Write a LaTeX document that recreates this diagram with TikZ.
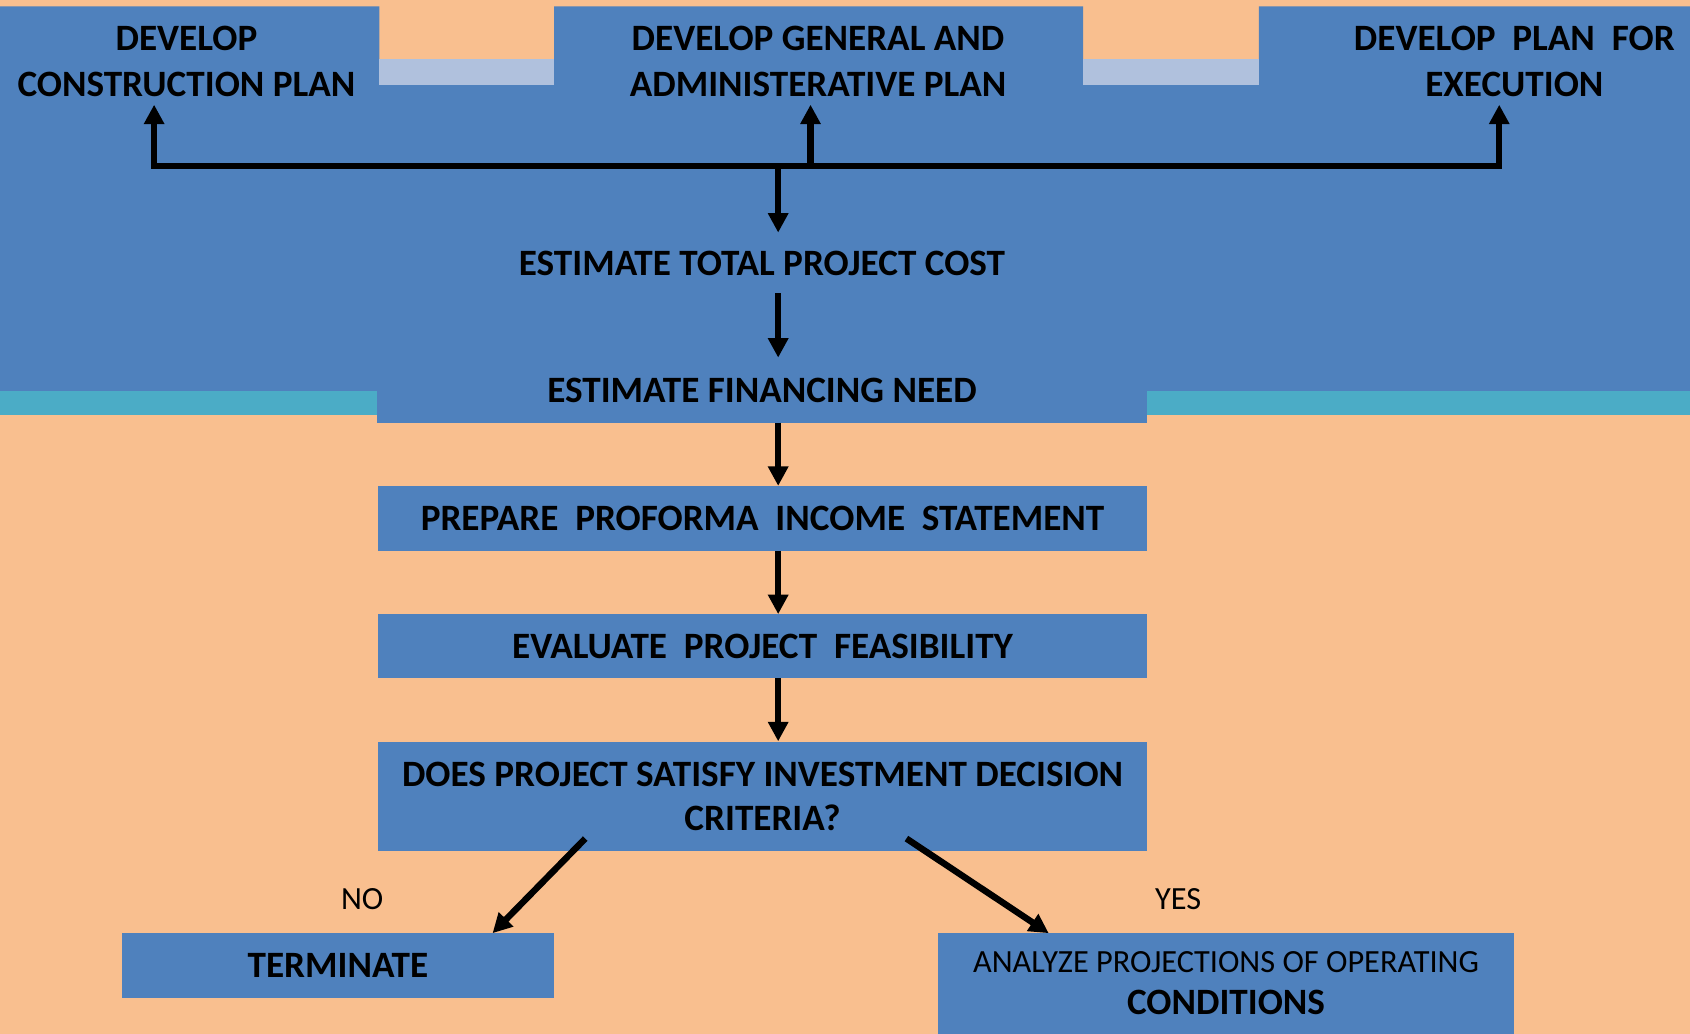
\documentclass[tikz,border=0pt]{standalone}
\usepackage{fontspec}
\setmainfont{Carlito}
\usetikzlibrary{arrows.meta}
\definecolor{peach}{HTML}{F9BF8F}
\definecolor{boxblue}{HTML}{4F81BD}
\definecolor{teal2}{HTML}{4BACC6}
\definecolor{lav}{HTML}{B0C1DD}
\begin{document}
\begin{tikzpicture}[x=1pt,y=-1pt,
  bt/.style={font=\fontsize{34.5}{42}\selectfont\bfseries, align=center, inner sep=0pt},
  rt/.style={font=\fontsize{30}{36}\selectfont, inner sep=0pt},
  boxn/.style={fill=boxblue, inner sep=0pt, align=center, font=\fontsize{34.5}{41}\selectfont\bfseries},
  arr/.style={line width=6pt, -{Triangle[length=18pt,width=18pt]}},
  biarr/.style={line width=6pt, {Triangle[length=18pt,width=18pt]}-{Triangle[length=18pt,width=18pt]}},
]
\useasboundingbox (0,0) rectangle (1568,959);
% background
\fill[peach] (0,0) rectangle (1568,959);
\fill[boxblue] (0,6) -- (352,6) -- (352,79) -- (514,79) -- (514,6) -- (1005,6) -- (1005,79)
  -- (1168,79) -- (1168,6) -- (1568,6) -- (1568,363) -- (0,363) -- cycle;
\fill[lav] (352,55) rectangle (514,79);
\fill[lav] (1005,55) rectangle (1168,79);
\fill[teal2] (0,363) rectangle (1568,385);

% top texts
\node[bt, inner ysep=7.5pt] (dcp) at (173,57) {DEVELOP\\CONSTRUCTION PLAN};
\node[bt, inner ysep=7.5pt] (dga) at (759,57) {DEVELOP GENERAL AND\\ADMINISTERATIVE PLAN};
\node[bt, inner ysep=7.5pt] (dpe) at (1405,57) {DEVELOP\ \ PLAN\ \ FOR\\EXECUTION};

\node[bt, minimum height=56pt] (cost) at (707,244) {ESTIMATE TOTAL PROJECT COST};
\node[boxn, minimum width=714pt, minimum height=60pt] (fin) at (707,362) {ESTIMATE FINANCING NEED};

% boxes
\node[boxn, minimum width=713pt, minimum height=60pt] (prep) at (707.5,481) {PREPARE\ \ PROFORMA\ \ INCOME\ \ STATEMENT};
\node[boxn, minimum width=713pt, minimum height=59pt] (eval) at (707.5,599.5) {EVALUATE\ \ PROJECT\ \ FEASIBILITY};
\node[boxn, minimum width=713pt, minimum height=102pt] (dec) at (707.5,739) {DOES PROJECT SATISFY INVESTMENT DECISION\\CRITERIA?};
\node[boxn, minimum width=401pt, minimum height=60pt] (term) at (313.5,896) {TERMINATE};
\node[boxn, minimum width=535pt, minimum height=93pt, font=\fontsize{30}{39}\selectfont] (anal) at (1137.5,912.5)
  {ANALYZE PROJECTIONS OF OPERATING\\{\fontsize{34.5}{39}\selectfont\bfseries CONDITIONS}};

\node[rt] (no) at (336,834) {NO};
\node[rt] (yes) at (1093,834) {YES};

% connectors
\coordinate (busL) at (143,154);
\coordinate (busR) at (1391,154);
\coordinate (busB) at (752,154);
\coordinate (busD) at (722,154);
\coordinate (ax) at (722,0);
\draw[biarr] (busL |- dcp.south) -- (busL) -- (busR) -- (busR |- dpe.south);
\draw[arr] (busB) -- (busB |- dga.south);
\draw[arr] (busD) -- (ax |- cost.north);
\draw[arr] (ax |- cost.south) -- (ax |- fin.north);
\draw[arr] (ax |- fin.south) -- (ax |- prep.north);
\draw[arr] (ax |- prep.south) -- (ax |- eval.north);
\draw[arr] (ax |- eval.south) -- (ax |- dec.north);
\coordinate (noS) at (543,778);
\coordinate (yesS) at (841,778);
\draw[arr] (noS) -- (term.north -| 457,0);
\draw[arr] (yesS) -- (anal.north -| 973,0);
\end{tikzpicture}
\end{document}
